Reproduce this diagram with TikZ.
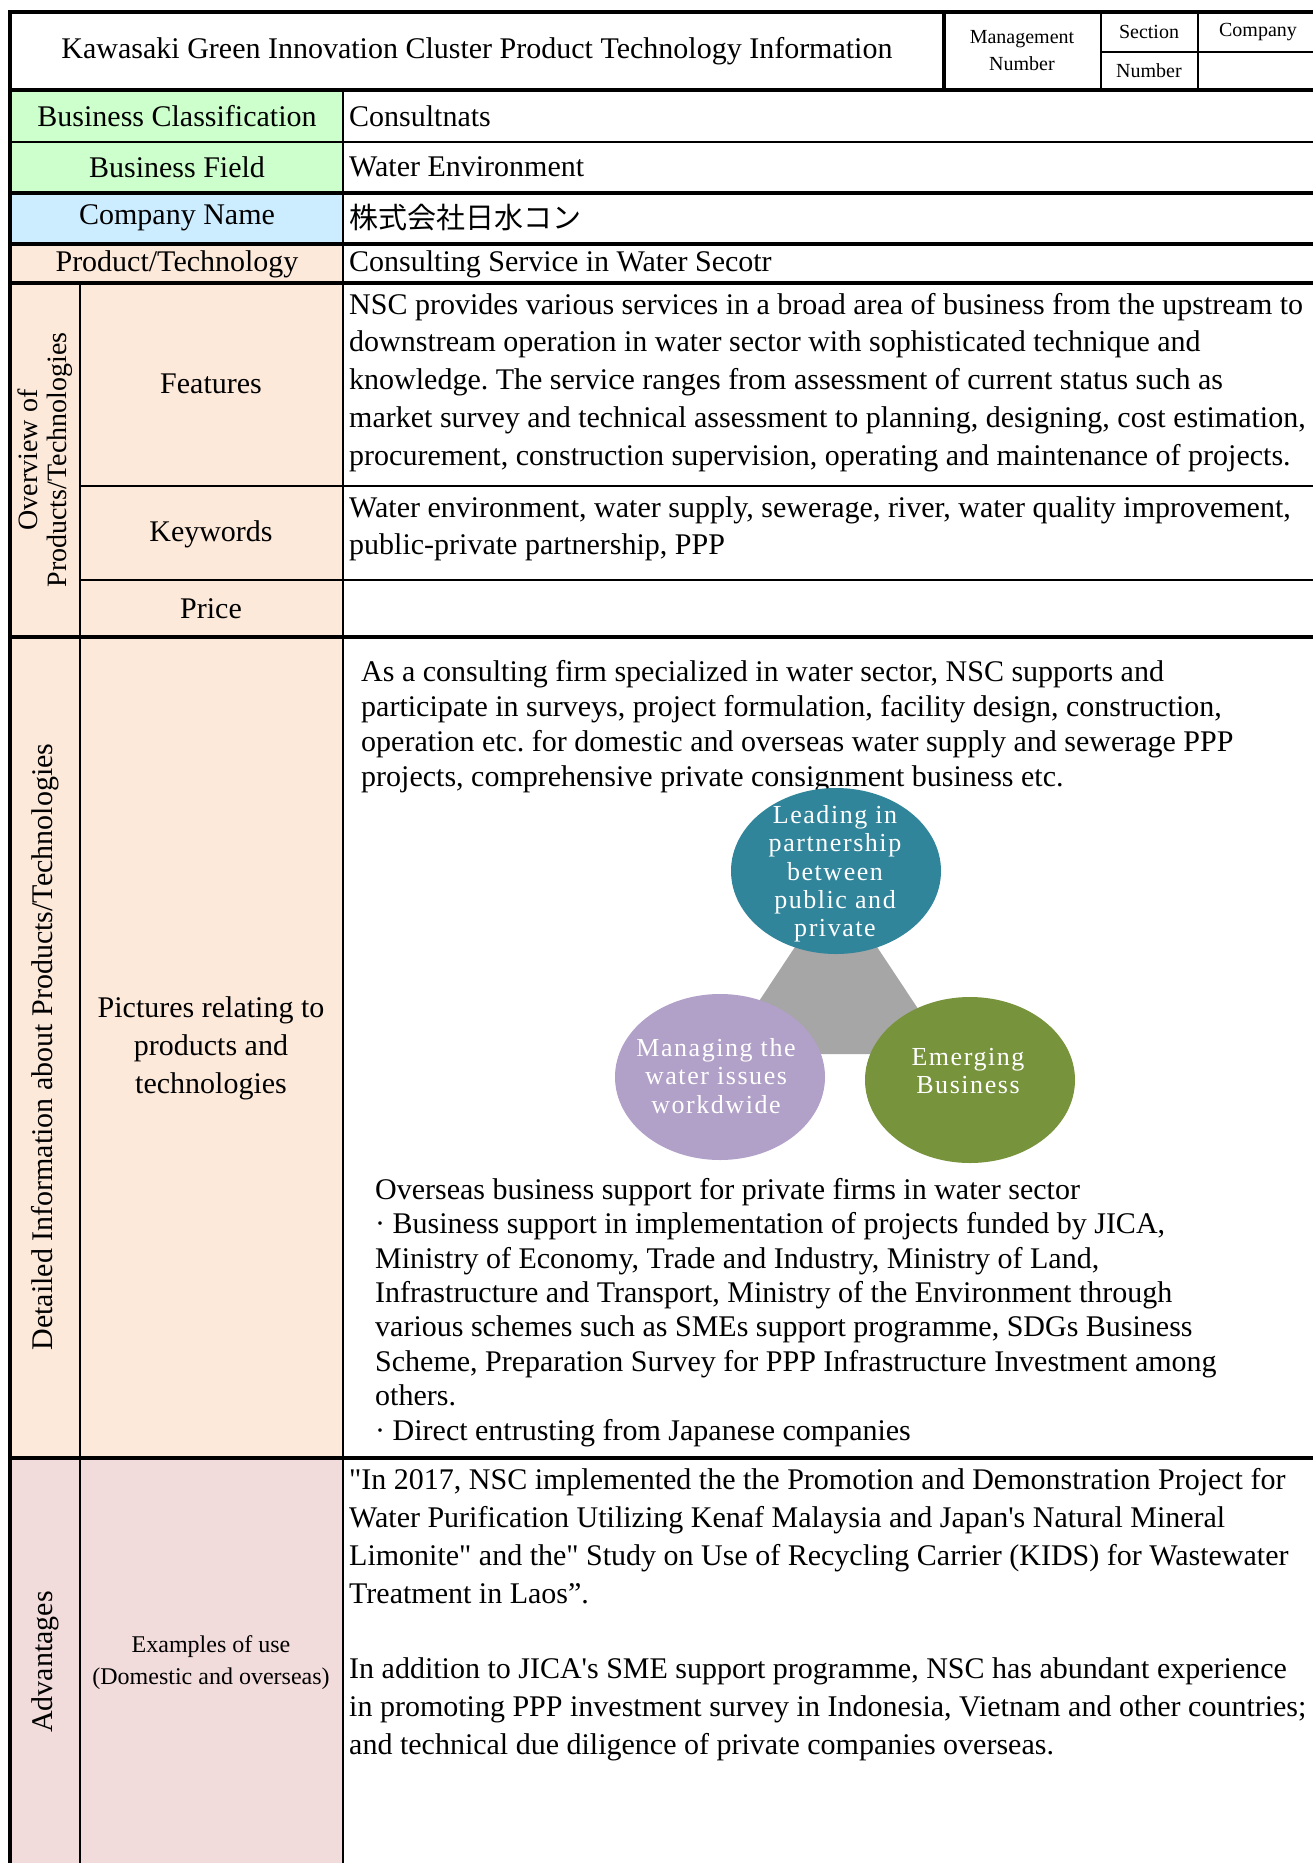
\documentclass[tikz,border=0pt]{standalone}
\usepackage{fontspec}
\setmainfont{Liberation Serif}[Ligatures=TeXOff]
\newfontfamily\jpfont{Noto Sans CJK JP}
\usepackage{tikz}
\usetikzlibrary{shapes.geometric}
\definecolor{leafgreen}{RGB}{204,255,204}
\definecolor{skyblue}{RGB}{204,236,255}
\definecolor{peach}{RGB}{253,233,217}
\definecolor{rosepink}{RGB}{242,220,219}
\definecolor{tealink}{RGB}{49,133,155}
\definecolor{lilac}{RGB}{177,160,199}
\definecolor{oliveink}{RGB}{119,147,60}
\definecolor{wedgegray}{RGB}{166,166,166}
\frenchspacing

\tikzset{
  heavyrule/.style={line width=4pt, line cap=rect},
  lightrule/.style={line width=2.2pt, line cap=rect},
  cell/.style={inner sep=0pt, font=\fontsize{30}{36}\selectfont},
  smallcell/.style={inner sep=0pt, align=center, font=\fontsize{20}{27}\selectfont},
  valuecell/.style={cell, anchor=west},
  para/.style={inner sep=0pt, anchor=base west, align=left},
  bubble/.style={ellipse, minimum width=210pt, minimum height=166pt, inner sep=0pt},
  bubbletext/.style={inner sep=0pt, text=white, align=center,
    font=\fontsize{26}{28.3}\selectfont\addfontfeatures{LetterSpace=6}}
}

\begin{document}
\begin{tikzpicture}[x=1pt, y=-1pt]
    \useasboundingbox[fill=white] (0,0) rectangle (1313,1863);

    % cell fills
    \fill[leafgreen] (10,90) rectangle (343,193);
    \fill[skyblue] (10,193) rectangle (343,244);
    \fill[peach] (10,244) rectangle (343,1458);
    \fill[rosepink] (10,1458) rectangle (343,1863);

    % heavy rules
    \draw[heavyrule] (10,1863) -- (10,12) -- (1320,12);
    \foreach \y in {90,193,244,283,637,1458}
        \draw[heavyrule] (10,\y) -- (1320,\y);
    \draw[heavyrule] (944,12) -- (944,90);

    % light rules
    \draw[lightrule] (10,142) -- (1320,142);
    \draw[lightrule] (80,486) -- (1320,486);
    \draw[lightrule] (80,580) -- (1320,580);
    \draw[lightrule] (1101,52) -- (1320,52);
    \draw[lightrule] (1101,12) -- (1101,90);
    \draw[lightrule] (1198,12) -- (1198,90);
    \draw[lightrule] (343,90) -- (343,1863);
    \draw[lightrule] (80,283) -- (80,1863);

    % header
    \node[cell] (title) at (477,51) {Kawasaki Green Innovation Cluster Product Technology Information};
    \node[smallcell] (mgmt) at (1022,51) {Management\\Number};
    \node[smallcell] (sectiontop) at (1149,32) {Section};
    \node[smallcell] (sectionbot) at (1149,71) {Number};
    \node[smallcell] (company) at (1258,32) {Company};

    % label column
    \node[cell] (classlbl) at (177,116) {Business Classification};
    \node[cell] (fieldlbl) at (177,167) {Business Field};
    \node[cell] (namelbl) at (177,218) {Company Name};
    \node[cell] (prodlbl) at (177,264) {Product/Technology};
    \node[cell, rotate=90, align=center, font=\fontsize{28}{29}\selectfont] (overviewlbl) at (45,460)
        {Overview of\\Products/Technologies};
    \node[cell] (featlbl) at (211,384) {Features};
    \node[cell] (keylbl) at (211,534) {Keywords};
    \node[cell] (pricelbl) at (211,609) {Price};
    \node[cell, rotate=90] (detaillbl) at (45,1047) {Detailed Information about Products/Technologies};
    \node[cell, align=center, font=\fontsize{30}{38}\selectfont] (picslbl) at (211,1048)
        {Pictures relating to\\products and\\technologies};
    \node[cell, rotate=90] (advlbl) at (45,1662) {Advantages};
    \node[cell, align=center, font=\fontsize{24}{32}\selectfont] (exlbl) at (211,1663)
        {Examples of use\\(Domestic and overseas)};

    % value column (para nodes sit on the baseline of their last line)
    \node[valuecell] (classval) at (349,116) {Consultnats};
    \node[valuecell] (fieldval) at (349,167) {Water Environment};
    \node[valuecell, font=\jpfont\fontsize{29}{36}\selectfont] (nameval) at (349,218) {株式会社日水コン};
    \node[valuecell] (prodval) at (349,264) {Consulting Service in Water Secotr};

    \node[para, font=\fontsize{30}{37.7}\selectfont] (featval) at (349,465)
        {NSC provides various services in a broad area of business from the upstream to\\
         downstream operation in water sector with sophisticated technique and\\
         knowledge. The service ranges from assessment of current status such as\\
         market survey and technical assessment to planning, designing, cost estimation,\\
         procurement, construction supervision, operating and maintenance of projects.};
    \node[para, font=\fontsize{30}{37}\selectfont] (keyval) at (349,554)
        {Water environment, water supply, sewerage, river, water quality improvement,\\
         public-private partnership, PPP};

    \node[para, font=\fontsize{30}{35}\selectfont] (detailtop) at (361,786)
        {As a consulting firm specialized in water sector, NSC supports and\\
         participate in surveys, project formulation, facility design, construction,\\
         operation etc. for domestic and overseas water supply and sewerage PPP\\
         projects, comprehensive private consignment business etc.};

    % three bubbles
    \fill[wedgegray] (836,885) -- (948,1054) -- (724,1054) -- cycle;
    \node[bubble, fill=tealink] (lead) at (836,871) {};
    \node[bubble, fill=lilac] (manage) at (720,1077) {};
    \node[bubble, fill=oliveink] (emerge) at (970,1080) {};
    \node[bubbletext] (leadtext) at (835,874)
        {Leading in\\partnership\\between\\public and\\private};
    \node[bubbletext] (managetext) at (716,1076)
        {Managing the\\water issues\\workdwide};
    \node[bubbletext] (emergetext) at (968,1071)
        {Emerging\\Business};

    \node[para, font=\fontsize{30}{34.4}\selectfont] (detailbot) at (375,1440)
        {Overseas business support for private firms in water sector\\
         · Business support in implementation of projects funded by JICA,\\
         Ministry of Economy, Trade and Industry, Ministry of Land,\\
         Infrastructure and Transport, Ministry of the Environment through\\
         various schemes such as SMEs support programme, SDGs Business\\
         Scheme, Preparation Survey for PPP Infrastructure Investment among\\
         others.\\
         · Direct entrusting from Japanese companies};

    \node[para, font=\fontsize{30}{38}\selectfont] (advval) at (349,1754)
        {"In 2017, NSC implemented the the Promotion and Demonstration Project for\\
         Water Purification Utilizing Kenaf Malaysia and Japan's Natural Mineral\\
         Limonite" and the" Study on Use of Recycling Carrier (KIDS) for Wastewater\\
         Treatment in Laos”.\\[37pt]
         In addition to JICA's SME support programme, NSC has abundant experience\\
         in promoting PPP investment survey in Indonesia, Vietnam and other countries;\\
         and technical due diligence of private companies overseas.};
\end{tikzpicture}
\end{document}
